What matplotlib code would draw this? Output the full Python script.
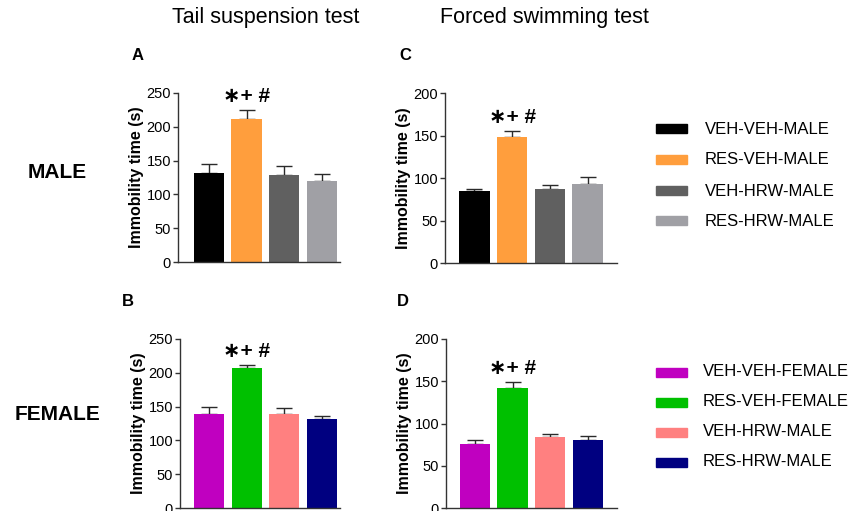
import matplotlib
matplotlib.use('Agg')
import matplotlib.pyplot as plt
from matplotlib.patches import Rectangle

plt.rcParams['font.family'] = ['Liberation Sans', 'DejaVu Sans']

# Data (means and upper SEM)
groups_male = ['VEH-VEH-MALE', 'RES-VEH-MALE', 'VEH-HRW-MALE', 'RES-HRW-MALE']
groups_female = ['VEH-VEH-FEMALE', 'RES-VEH-FEMALE', 'VEH-HRW-MALE', 'RES-HRW-MALE']

tst_male = [131, 211.5, 128.5, 120.5]
tst_male_err = [14, 13.5, 14, 10]
fst_male = [85, 148, 86.5, 92.5]
fst_male_err = [2.5, 7, 5.5, 9]
tst_female = [139.5, 207, 138.5, 131.5]
tst_female_err = [10, 4, 9.5, 4.5]
fst_female = [76, 142.5, 83.5, 80.5]
fst_female_err = [5, 6.5, 4, 4.5]

colors_male = ['#000000', '#FF9E3D', '#606060', '#A0A0A5']
colors_female = ['#C000C0', '#00C000', '#FF8080', '#000080']

fig = plt.figure(figsize=(8.57, 5.11), dpi=100)
W, H = 857, 511


def px_axes(l, r, t, b):
    return fig.add_axes([l / W, 1 - b / H, (r - l) / W, (b - t) / H])


def panel(ax, vals, errs, colors, ymax, xlim):
    x = range(len(vals))
    ax.bar(x, vals, width=0.8, color=colors, zorder=2)
    ax.errorbar(x, vals, yerr=[[0] * len(vals), errs], fmt='none',
                ecolor='#2a2a2a', elinewidth=1.0, capsize=5.5, capthick=1.0, zorder=1)
    ax.set_xlim(*xlim)
    ax.set_ylim(0, ymax)
    ax.set_yticks(range(0, ymax + 1, 50))
    ax.set_xticks([])
    for s in ['top', 'right']:
        ax.spines[s].set_visible(False)
    for s in ['left', 'bottom']:
        ax.spines[s].set_color('#333333')
        ax.spines[s].set_linewidth(1.0)
    ax.tick_params(axis='y', labelsize=10.5, length=3.5, width=1.0, color='#333333', pad=1.5)
    ax.set_ylabel('Immobility time (s)', fontsize=11.5, fontweight='bold', labelpad=1.5)
    top = vals[1] + errs[1]
    ax.annotate('\u2217+ #', (1, top), xytext=(0, 10), textcoords='offset points',
                ha='center', va='center', fontsize=15, fontweight='bold')


axA = px_axes(178, 340, 93, 262)
panel(axA, tst_male, tst_male_err, colors_male, 250, (-0.82, 3.48))
axC = px_axes(445, 617, 93, 263)
panel(axC, fst_male, fst_male_err, colors_male, 200, (-0.78, 3.78))
axB = px_axes(180, 340, 339, 508)
panel(axB, tst_female, tst_female_err, colors_female, 250, (-0.77, 3.48))
axD = px_axes(446, 617, 339, 508)
panel(axD, fst_female, fst_female_err, colors_female, 200, (-0.77, 3.78))

# titles and labels
fig.text(265.5 / W, 1 - 18 / H, 'Tail suspension test', ha='center', va='center', fontsize=15.5)
fig.text(544 / W, 1 - 18 / H, 'Forced swimming test', ha='center', va='center', fontsize=15.5)
for lab, xp, yp in [('A', 138, 55), ('C', 405, 55), ('B', 128, 302), ('D', 403, 302)]:
    fig.text(xp / W, 1 - yp / H, lab, ha='center', va='center', fontsize=12, fontweight='bold')
fig.text(57 / W, 1 - 172 / H, 'MALE', ha='center', va='center', fontsize=15, fontweight='bold')
fig.text(57 / W, 1 - 414 / H, 'FEMALE', ha='center', va='center', fontsize=15, fontweight='bold')

# legends drawn by hand to match the layout
def legend(labels, colors, ys, x_patch, x_text):
    for lab, col, yy in zip(labels, colors, ys):
        fig.patches.append(Rectangle((x_patch / W, 1 - (yy + 4.5) / H), 31 / W, 9 / H,
                                     transform=fig.transFigure, color=col, figure=fig))
        fig.text(x_text / W, 1 - yy / H, lab, ha='left', va='center', fontsize=12)


legend(groups_male, colors_male, [129, 160, 191, 221], 656, 705)
legend(groups_female, colors_female, [372, 402, 432, 462], 656, 703)

fig.savefig('out.png', dpi=100)
